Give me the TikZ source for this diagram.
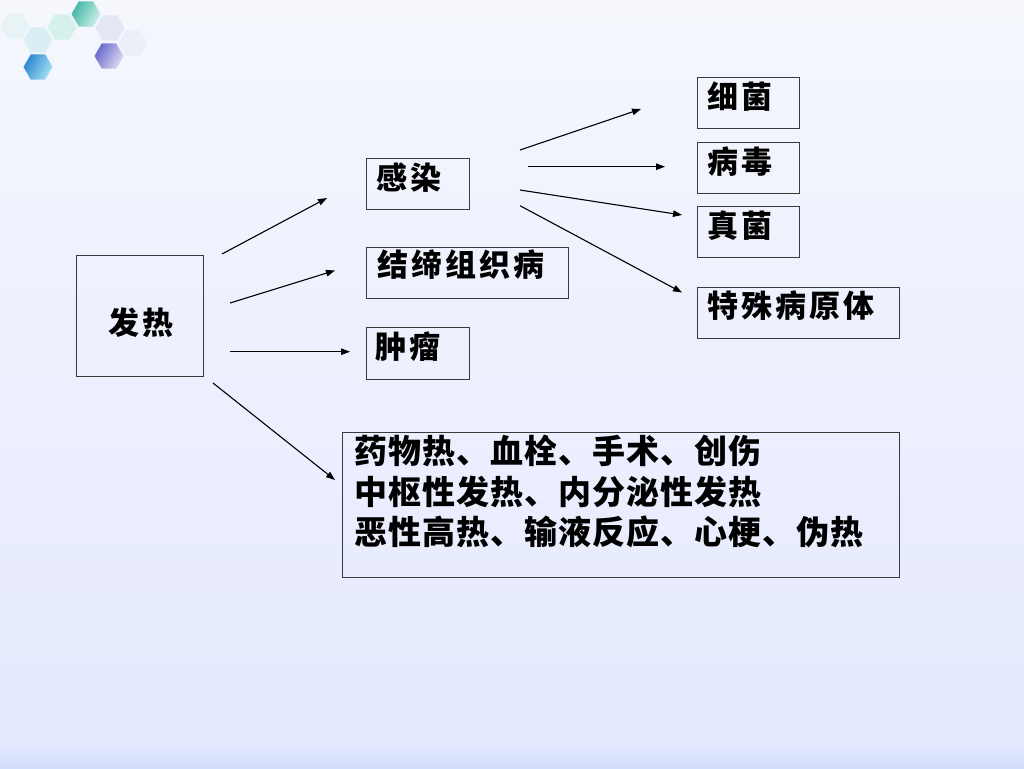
\documentclass[tikz,border=0pt]{standalone}
\usepackage{fontspec}
\newfontfamily\cjka{Noto Sans CJK SC}[LetterSpace=10]
\newfontfamily\cjkb{Noto Sans CJK SC}[LetterSpace=3]
\usetikzlibrary{arrows.meta,shapes.geometric,calc}
\definecolor{bgtop}{HTML}{F5F7FD}
\definecolor{bgbot}{HTML}{E4E9FE}
\definecolor{bgband}{HTML}{D2DEFC}
\definecolor{boxline}{HTML}{3A3A3A}
\definecolor{hxa}{HTML}{E8F3F6}
\definecolor{hxb}{HTML}{DAEFF3}
\definecolor{hxc}{HTML}{D6F0EB}
\definecolor{hxd}{HTML}{E4E8F4}
\definecolor{hxe}{HTML}{ECEFF8}
\definecolor{tealdk}{HTML}{45B8A8}
\definecolor{teallt}{HTML}{CDEFE8}
\definecolor{bluedk}{HTML}{2C86D0}
\definecolor{bluelt}{HTML}{A6E2F4}
\definecolor{purpdk}{HTML}{6A6ACC}
\definecolor{purplt}{HTML}{DADAF4}
\tikzset{
  box/.style={draw=boxline, line width=1.1pt, inner sep=0pt, anchor=north west},
  lbl/.style={inner sep=0pt, anchor=west, font=\cjka\bfseries\fontsize{31}{36}\selectfont},
  biglbl/.style={inner sep=0pt, anchor=north west, align=left, font=\cjkb\bfseries\fontsize{33}{40.5}\selectfont},
  arr/.style={line width=1.1pt, black, -{Triangle[length=9pt,width=6.5pt]}},
  hexa/.style={regular polygon, regular polygon sides=6, minimum size=29pt, inner sep=0pt, draw=none}
}
\begin{document}
\begin{tikzpicture}[x=1pt,y=-1pt]
\useasboundingbox (0,0) rectangle (1024,768);
% background
\shade[top color=bgtop, bottom color=bgbot] (0,0) rectangle (1024,742);
\shade[top color=bgbot, bottom color=bgband] (0,742) rectangle (1024,768);
% hexagon decoration
\node[hexa, fill=hxa] (h1) at (15,26) {};
\node[hexa, fill=hxb] (h2) at (38,40) {};
\node[hexa, fill=hxc] (h3) at (62,27) {};
\node[hexa, fill=hxd] (h5) at (110,28) {};
\node[hexa, fill=hxe] (h6) at (133,43) {};
\node[hexa, left color=tealdk, right color=teallt, shading angle=60] (h4) at (86,14) {};
\node[hexa, left color=bluedk, right color=bluelt, shading angle=60] (h7) at (38,67) {};
\node[hexa, left color=purpdk, right color=purplt, shading angle=60] (h8) at (109,56) {};
% boxes
\node[box, minimum width=127pt, minimum height=121pt] (fr) at (76,255) {};
\node[box, minimum width=103pt, minimum height=51pt] (gr) at (366,158) {};
\node[box, minimum width=202pt, minimum height=51pt] (jd) at (366,247) {};
\node[box, minimum width=103pt, minimum height=52pt] (zl) at (366,327) {};
\node[box, minimum width=102pt, minimum height=51pt] (xj) at (697,77) {};
\node[box, minimum width=102pt, minimum height=51pt] (bd) at (697,142) {};
\node[box, minimum width=102pt, minimum height=51pt] (zj) at (697,206) {};
\node[box, minimum width=202pt, minimum height=51pt] (ts) at (697,287) {};
\node[box, minimum width=557pt, minimum height=145pt] (qt) at (342,432) {};
% labels
\node[lbl] (fr-t) at (108,323) {发热};
\node[lbl] (gr-t) at (376,178) {感染};
\node[lbl] (jd-t) at (377,265) {结缔组织病};
\node[lbl] (zl-t) at (375,347) {肿瘤};
\node[lbl] (xj-t) at (707,97) {细菌};
\node[lbl] (bd-t) at (707,162) {病毒};
\node[lbl] (zj-t) at (707,226) {真菌};
\node[lbl] (ts-t) at (707,306) {特殊病原体};
\node[biglbl] (qt-t) at (354,435) {药物热、血栓、手术、创伤\\中枢性发热、内分泌性发热\\恶性高热、输液反应、心梗、伪热};
% connector end points
\coordinate (b1s) at (222,254); \coordinate (b1e) at (327,198);
\coordinate (b2s) at (230,303); \coordinate (b2e) at (335,270.5);
\coordinate (b3s) at (230,351.7); \coordinate (b3e) at (350,351.7);
\coordinate (b4s) at (213,383); \coordinate (b4e) at (335,480);
\coordinate (a1s) at (520,150); \coordinate (a1e) at (641,109);
\coordinate (a2s) at (528,166.7); \coordinate (a2e) at (665,166.7);
\coordinate (a3s) at (520,190); \coordinate (a3e) at (682,215);
\coordinate (a4s) at (520,205.7); \coordinate (a4e) at (682,292.5);
\draw[arr] (b1s) -- (b1e);
\draw[arr] (b2s) -- (b2e);
\draw[arr] (b3s) -- (b3e);
\draw[arr] (b4s) -- (b4e);
\draw[arr] (a1s) -- (a1e);
\draw[arr] (a2s) -- (a2e);
\draw[arr] (a3s) -- (a3e);
\draw[arr] (a4s) -- (a4e);
\end{tikzpicture}
\end{document}
